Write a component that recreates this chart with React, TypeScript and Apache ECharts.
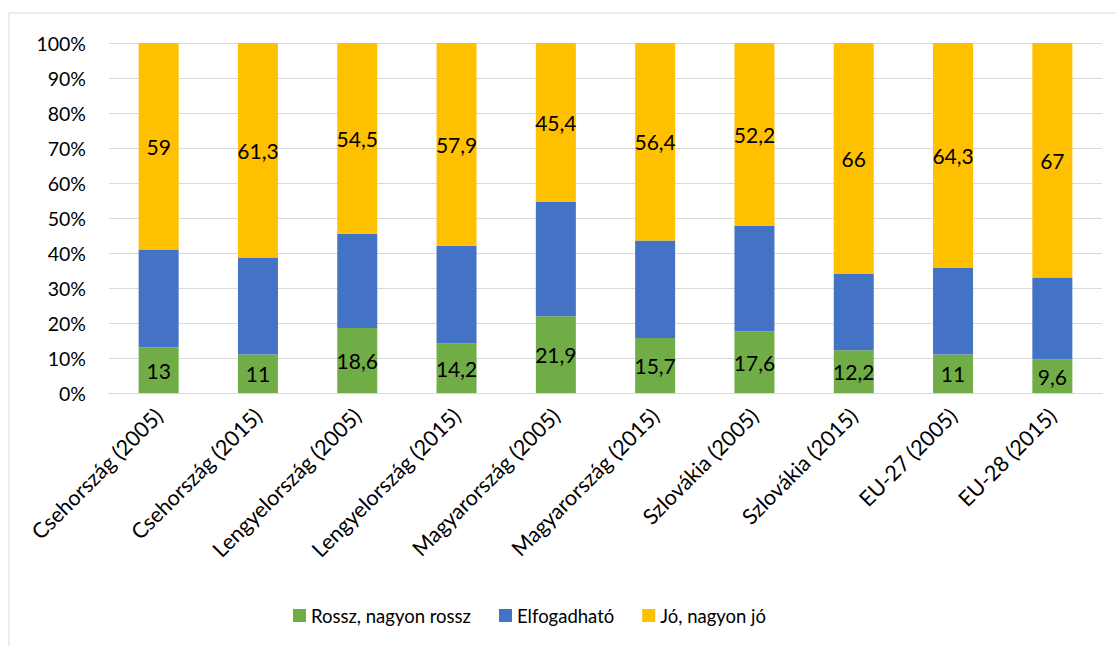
import React, { useEffect, useRef } from "react";
import * as echarts from "echarts";

const categories = [
  "Csehország (2005)",
  "Csehország (2015)",
  "Lengyelország (2005)",
  "Lengyelország (2015)",
  "Magyarország (2005)",
  "Magyarország (2015)",
  "Szlovákia (2005)",
  "Szlovákia (2015)",
  "EU-27 (2005)",
  "EU-28 (2015)",
];
const rossz = [13, 11, 18.6, 14.2, 21.9, 15.7, 17.6, 12.2, 11, 9.6];
const elfogadhato = [28, 27.7, 26.9, 27.9, 32.7, 27.9, 30.2, 21.8, 24.7, 23.4];
const jo = [59, 61.3, 54.5, 57.9, 45.4, 56.4, 52.2, 66, 64.3, 67];

const FONT = "Lato, 'Noto Sans', sans-serif";
const fmt = (p: any) => String(p.value).replace(".", ",");

export default function App() {
  const ref = useRef<HTMLDivElement>(null);
  useEffect(() => {
    if (!ref.current) return;
    const chart = echarts.init(ref.current, null, { renderer: "svg" });
    const label = {
      show: true,
      position: "inside",
      color: "#000",
      fontSize: 21,
      fontFamily: FONT,
      formatter: fmt,
    };
    chart.setOption({
      animation: false,
      textStyle: { fontFamily: FONT },
      graphic: [
        {
          type: "rect",
          shape: { x: 9, y: 13, width: 1200, height: 700 },
          style: { fill: "none", stroke: "#d9d9d9", lineWidth: 1 },
          silent: true,
        },
      ],
      grid: { left: 109, right: 14, top: 43, bottom: 253, containLabel: false },
      legend: {
        bottom: 16,
        left: 288,
        itemWidth: 13,
        itemHeight: 13,
        itemGap: 28,
        icon: "rect",
        textStyle: { fontSize: 18.5, color: "#000", fontFamily: FONT },
        data: ["Rossz, nagyon rossz", "Elfogadható", "Jó, nagyon jó"],
      },
      xAxis: {
        type: "category",
        data: categories,
        axisLine: { lineStyle: { color: "#d9d9d9" } },
        axisTick: { show: false },
        axisLabel: {
          rotate: 45,
          interval: 0,
          color: "#000",
          fontSize: 21.5,
          fontFamily: FONT,
          margin: 19,
        },
      },
      yAxis: {
        type: "value",
        min: 0,
        max: 100,
        interval: 10,
        axisLabel: {
          formatter: "{value}%",
          color: "#000",
          fontSize: 19.5,
          fontFamily: FONT,
          margin: 23,
        },
        splitLine: { lineStyle: { color: "#d9d9d9" } },
        axisLine: { show: false },
        axisTick: { show: false },
      },
      series: [
        {
          name: "Rossz, nagyon rossz",
          type: "bar",
          stack: "s",
          barWidth: 40,
          data: rossz,
          itemStyle: { color: "#70ad47" },
          label,
        },
        {
          name: "Elfogadható",
          type: "bar",
          stack: "s",
          barWidth: 40,
          data: elfogadhato,
          itemStyle: { color: "#4472c4" },
        },
        {
          name: "Jó, nagyon jó",
          type: "bar",
          stack: "s",
          barWidth: 40,
          data: jo,
          itemStyle: { color: "#ffc000" },
          label,
        },
      ],
    });
    return () => chart.dispose();
  }, []);
  return (
    <div
      ref={ref}
      style={{ position: "fixed", left: 0, top: 0, width: 1116, height: 646, background: "#fff" }}
    />
  );
}
